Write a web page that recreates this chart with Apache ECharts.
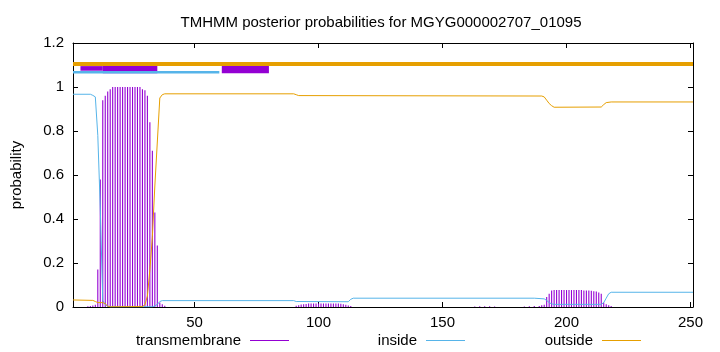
<!DOCTYPE html>
<html><head><meta charset="utf-8">
<script src="https://cdn.jsdelivr.net/npm/echarts@6/dist/echarts.min.js"></script>
<style>html,body{margin:0;padding:0;background:#fff}#c{width:720px;height:352px}</style>
</head><body><div id="c"></div>
<script>
const xTicks = [50, 100, 150, 200, 250];
const yTicks = [0, 0.2, 0.4, 0.6, 0.8, 1, 1.2];
// transmembrane posterior probability per residue [residue, prob]
const tmBars = [
  [7,0.003],[8,0.005],[9,0.007],[10,0.01],[11,0.17],[12,0.58],[13,0.94],[14,0.96],[15,0.98],[16,0.99],
  [17,1],[18,1],[19,1],[20,1],[21,1],[22,1],[23,1],[24,1],[25,1],[26,1],[27,1],[28,1],
  [29,0.99],[30,0.985],[31,0.96],[32,0.84],[33,0.71],[34,0.43],[35,0.28],[36,0.02],[37,0.012],[38,0.006],
  [91,0.006],[92,0.008],[93,0.011],[94,0.013],[95,0.014],[96,0.016],[97,0.016],[98,0.016],[99,0.016],
  [100,0.016],[101,0.016],[102,0.016],[103,0.016],[104,0.016],[105,0.016],[106,0.016],[107,0.016],[108,0.016],
  [109,0.015],[110,0.013],[111,0.01],[112,0.007],[113,0.004],
  [163,0.002],[165,0.003],[167,0.003],[169,0.003],[171,0.002],
  [183,0.002],[185,0.003],[187,0.004],[189,0.005],[190,0.008],[191,0.01],[192,0.045],[193,0.06],[194,0.075],
  [195,0.077],[196,0.077],[197,0.077],[198,0.077],[199,0.077],[200,0.077],[201,0.077],[202,0.077],[203,0.077],
  [204,0.077],[205,0.077],[206,0.077],[207,0.075],[208,0.075],[209,0.075],[210,0.074],[211,0.072],[212,0.07],
  [213,0.066],[214,0.06],[215,0.02],[216,0.013],[217,0.008],[218,0.004]
];
// inside probability (line vertices)
const insideLine = [
  [1,0.967],[8,0.967],[9,0.962],[10,0.955],[11,0.78],[12,0.45],[13,0.03],[14,0.01],[15,0.003],[16,0.001],
  [33,0.001],[34,0.005],[35,0.012],[36,0.025],[37,0.029],[90,0.029],[91,0.025],[112,0.024],[113,0.035],
  [114,0.04],[187,0.04],[191,0.037],[192,0.03],[193,0.02],[194,0.014],[195,0.012],[214,0.012],[215,0.02],
  [216,0.04],[217,0.06],[218,0.067],[251,0.067]
];
// outside probability (line vertices)
const outsideLine = [
  [1,0.032],[9,0.03],[10,0.025],[11,0.02],[13,0.02],[14,0.015],[15,0.004],[16,0.001],[29,0.002],[30,0.01],
  [31,0.05],[32,0.17],[33,0.32],[34,0.55],[35,0.75],[36,0.95],[37,0.965],[38,0.969],[90,0.969],[91,0.965],
  [92,0.961],[190,0.959],[191,0.955],[192,0.94],[193,0.925],[194,0.915],[195,0.908],[214,0.909],[215,0.92],
  [216,0.929],[218,0.932],[251,0.932]
];
// predicted topology strips at top
const topOutside = [[1,1.105],[251,1.105]];
const topInside = [[1,1.067],[60,1.067]];
const topTM = [[4,13,1.074,1.095],[13,35,1.062,1.110],[61,80,1.062,1.095]];

const FONT = 'Liberation Sans, Arial, sans-serif';
const FS = 15;
const C_TM = '#9400d3', C_IN = '#56b4e9', C_OUT = '#e69f00';

const chart = echarts.init(document.getElementById('c'), null, {renderer:'canvas'});
const axisCommon = {
  type:'value', axisLine:{show:true, onZero:false, lineStyle:{color:'#000', width:1}},
  splitLine:{show:false}
};
const legendCommon = {
  top: 333, padding: 0, align:'right', icon:'rect', itemWidth:39, itemHeight:1,
  textStyle:{fontFamily:FONT, fontSize:FS, color:'#000', padding:[0,4,0,0]}, selectedMode:false
};
chart.setOption({
  animation:false,
  backgroundColor:'#fff',
  title:{text:'TMHMM posterior probabilities for MGYG000002707_01095', left:381, top:15, padding:0, textAlign:'center',
    textStyle:{fontFamily:FONT, fontSize:FS, fontWeight:'normal', color:'#000'}},
  grid:{left:73, right:27, top:43, bottom:45},
  legend:[
    Object.assign({data:['transmembrane'], right:431}, legendCommon),
    Object.assign({data:['inside'], right:255}, legendCommon),
    Object.assign({data:['outside'], right:79}, legendCommon)
  ],
  xAxis:[
    Object.assign({}, axisCommon, {min:1, max:251, position:'bottom',
      axisTick:{show:true, inside:true, length:5, customValues:xTicks, lineStyle:{color:'#000'}},
      axisLabel:{show:true, customValues:xTicks, color:'#000', fontFamily:FONT, fontSize:FS, margin:8}}),
    Object.assign({}, axisCommon, {min:1, max:251, position:'top',
      axisTick:{show:true, inside:true, length:5, customValues:xTicks, lineStyle:{color:'#000'}},
      axisLabel:{show:false}})
  ],
  yAxis:[
    Object.assign({}, axisCommon, {min:0, max:1.2, interval:0.2, position:'left',
      axisTick:{show:true, inside:true, length:5, lineStyle:{color:'#000'}},
      axisLabel:{show:true, color:'#000', fontFamily:FONT, fontSize:FS, margin:9,
        formatter:v=>String(+v.toFixed(1))},
      name:'probability', nameLocation:'middle', nameGap:49, nameRotate:90,
      nameTextStyle:{fontFamily:FONT, fontSize:FS, color:'#000'}}),
    Object.assign({}, axisCommon, {min:0, max:1.2, interval:0.2, position:'right',
      axisTick:{show:true, inside:true, length:5, lineStyle:{color:'#000'}},
      axisLabel:{show:false}})
  ],
  series:[
    {name:'transmembrane', type:'custom', xAxisIndex:0, yAxisIndex:0, data:tmBars,
      itemStyle:{color:C_TM}, encode:{x:0, y:1}, clip:true,
      renderItem:(params, api)=>{
        const p0 = api.coord([api.value(0), 0]);
        const p1 = api.coord([api.value(0), api.value(1)]);
        return {type:'line', shape:{x1:p0[0], y1:p0[1], x2:p1[0], y2:p1[1]},
          style:{stroke:C_TM, lineWidth:1.1}};
      }},
    {name:'inside', type:'line', data:insideLine, showSymbol:false, symbol:'none',
      lineStyle:{color:C_IN, width:1}, itemStyle:{color:C_IN}},
    {name:'outside', type:'line', data:outsideLine, showSymbol:false, symbol:'none',
      lineStyle:{color:C_OUT, width:1}, itemStyle:{color:C_OUT}},
    {name:'topOut', type:'line', data:topOutside, showSymbol:false, symbol:'none',
      lineStyle:{color:C_OUT, width:4}, itemStyle:{color:C_OUT}},
    {name:'topIn', type:'line', data:topInside, showSymbol:false, symbol:'none',
      lineStyle:{color:C_IN, width:2.5}, itemStyle:{color:C_IN}},
    {name:'topTM', type:'custom', data:topTM, encode:{x:[0,1], y:[2,3]}, itemStyle:{color:C_TM},
      renderItem:(params, api)=>{
        const a = api.coord([api.value(0), api.value(3)]);
        const b = api.coord([api.value(1), api.value(2)]);
        return {type:'rect', shape:{x:a[0], y:a[1], width:b[0]-a[0], height:b[1]-a[1]},
          style:{fill:C_TM}};
      }}
  ]
});
</script></body></html>
